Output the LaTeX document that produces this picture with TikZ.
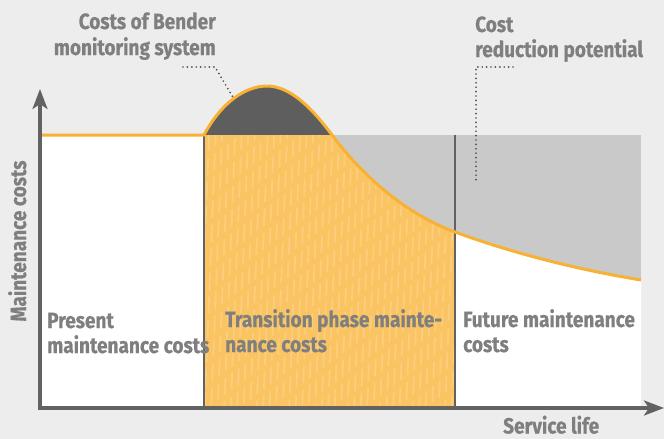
\documentclass[tikz,border=0pt]{standalone}
\usepackage{fontspec}
\setmainfont{Fira Sans}[FakeStretch=0.865, BoldFeatures={FakeBold=0.6}]
\usetikzlibrary{arrows.meta}
\definecolor{bg}{HTML}{EDEDED}
\definecolor{lgray}{HTML}{C9C9C9}
\definecolor{dgray}{HTML}{5E5E5E}
\definecolor{axisgray}{HTML}{626262}
\definecolor{txtgray}{HTML}{7F7F7F}
\definecolor{dotgray}{HTML}{4F4F4F}
\definecolor{orline}{HTML}{F8B133}
\definecolor{orfill}{HTML}{FAC462}
\definecolor{orstripe}{HTML}{FBCD7C}
\begin{document}
\begin{tikzpicture}[x=1pt,y=-1pt,
  lbl/.style={text=txtgray, font=\bfseries\fontsize{22}{25}\selectfont, inner sep=0pt},
  axisline/.style={draw=axisgray, line width=3.2pt, -{Stealth[length=20pt,width=15pt,inset=5pt]}},
  divider/.style={draw=axisgray, line width=2pt},
  curveline/.style={draw=orline, line width=3pt, line join=round},
  leader/.style={draw=dotgray, line width=1.9pt, line cap=round, dash pattern=on 0pt off 4.4pt},
  stripe/.style={draw=orstripe, line width=1.8pt, dash pattern=on 17pt off 7pt}]
\fill[bg] (0,0) rectangle (664,439);
\useasboundingbox (0,0) rectangle (664,439);
% plot areas
\fill[white] (41,135) rectangle (641,408);
\fill[lgray] (332,135) rectangle (641,408);
\fill[white] (455,232) .. controls (515,254) and (580,270) .. (641,280) -- (641,408) -- (455,408) -- cycle;
\fill[dgray] (204,135) .. controls (221,103) and (245,86) .. (267,86) .. controls (290,86) and (312,108) .. (332,135) -- cycle;
\fill[orfill] (204,135) -- (332,135) .. controls (352,162) and (395,210) .. (455,232) -- (455,408) -- (204,408) -- cycle;
\begin{scope}
  \clip (204,135) -- (332,135) .. controls (352,162) and (395,210) .. (455,232) -- (455,408) -- (204,408) -- cycle;
  \foreach \i in {0,...,48} {
    \pgfmathsetmacro{\xs}{190+\i*6.5}
    \pgfmathsetmacro{\ph}{mod(\i*5,24)}
    \draw[stripe, dash phase=\ph pt] (\xs,125) -- ++(-12,300);
  }
\end{scope}
% dividers
\coordinate (d1t) at (204,135); \coordinate (d1b) at (204,408);
\coordinate (d2t) at (455,135); \coordinate (d2b) at (455,408);
\draw[divider] (d1t) -- (d1b);
\draw[divider] (d2t) -- (d2b);
% orange curve
\draw[curveline] (41,135) -- (204,135) .. controls (221,103) and (245,86) .. (267,86) .. controls (290,86) and (312,108) .. (332,135) .. controls (352,162) and (395,210) .. (455,232) .. controls (515,254) and (580,270) .. (641,280);
% axes
\coordinate (O) at (40,408);
\coordinate (ytip) at (40,89);
\coordinate (xtip) at (664,408);
\draw[axisline] ([yshift=-1.6pt]O) -- (ytip);
\draw[axisline] ([xshift=-1.6pt]O) -- (xtip);
% leaders
\coordinate (la1) at (183,67); \coordinate (la2) at (215,67); \coordinate (la3) at (234,99);
\draw[leader] (la1) -- (la2) -- (la3);
\coordinate (lb1) at (513,67); \coordinate (lb2) at (476,67); \coordinate (lb3) at (476,180);
\draw[leader] (lb1) -- (lb2) -- (lb3);
% texts
\node[lbl, anchor=base east] (t1a) at (216,29) {Costs of Bender};
\node[lbl, anchor=base east] (t1b) at (216,55) {monitoring system};
\node[lbl, anchor=base west] (t2a) at (475,32) {Cost};
\node[lbl, anchor=base west] (t2b) at (475,57) {reduction potential};
\node[lbl, anchor=base, rotate=90] (ylab) at (26,241) {Maintenance costs};
\node[lbl, anchor=base west] (xlab) at (503,433.5) {Service life};
\node[lbl, anchor=base west] (p1) at (47,328) {Present};
\node[lbl, anchor=base west] (p2) at (47,353) {maintenance costs};
\node[lbl, anchor=base west] (q1) at (225,327) {Transition phase mainte-};
\node[lbl, anchor=base west] (q2) at (225,352) {nance costs};
\node[lbl, anchor=base west] (r1) at (463,327) {Future maintenance};
\node[lbl, anchor=base west] (r2) at (463,352) {costs};
\end{tikzpicture}
\end{document}
